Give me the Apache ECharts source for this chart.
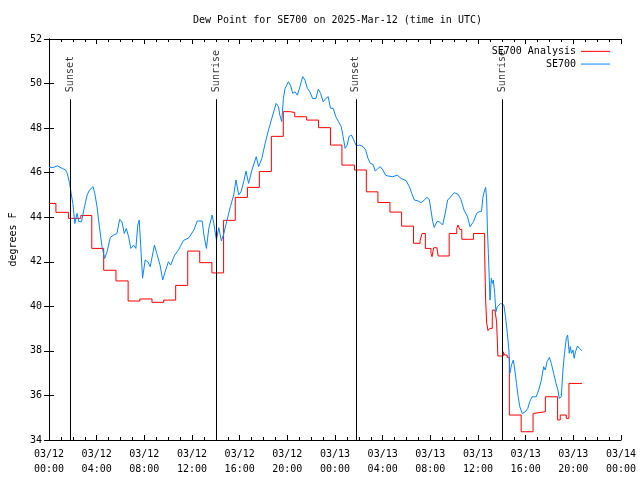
<!DOCTYPE html>
<html><head><meta charset="utf-8">
<script src="https://cdn.jsdelivr.net/npm/echarts@6/dist/echarts.min.js"></script>
<style>html,body{margin:0;padding:0;background:#fff}#c{width:640px;height:480px}</style>
</head><body><div id="c"></div>
<script>
// hours since 2025-03-12 00:00 UTC
const obsHours = [0.00,0.42,0.69,1.11,1.39,1.53,1.73,1.86,2.00,2.17,2.36,2.50,2.73,2.92,3.20,3.40,3.70,3.84,4.03,4.23,4.45,4.67,4.87,5.15,5.43,5.70,5.93,6.12,6.32,6.49,6.68,6.87,7.10,7.29,7.45,7.57,7.70,7.85,8.07,8.29,8.49,8.85,9.04,9.32,9.54,9.79,10.02,10.21,10.54,10.91,11.27,11.74,12.16,12.44,12.85,13.00,13.21,13.41,13.69,13.83,14.05,14.25,14.47,14.67,14.94,15.22,15.50,15.69,15.92,16.11,16.34,16.53,16.75,17.03,17.39,17.59,17.86,18.14,18.42,18.70,19.06,19.26,19.37,19.53,19.67,19.81,20.09,20.28,20.45,20.64,20.84,21.06,21.29,21.48,21.68,21.89,22.12,22.40,22.60,22.79,23.01,23.23,23.43,23.62,23.85,24.07,24.29,24.52,24.68,24.85,25.02,25.18,25.38,25.57,25.79,26.07,26.35,26.57,26.77,26.96,27.19,27.38,27.60,27.80,28.02,28.24,28.44,28.86,29.21,29.55,29.97,30.24,30.44,30.66,30.94,31.22,31.49,31.72,31.91,32.05,32.20,32.33,32.55,32.75,32.89,33.03,33.22,33.45,33.72,34.00,34.33,34.56,34.83,35.12,35.33,35.62,35.89,36.09,36.29,36.42,36.56,36.64,36.73,36.79,36.87,36.92,37.01,37.12,37.20,37.29,37.40,37.50,37.62,37.76,37.90,38.04,38.17,38.31,38.46,38.59,38.67,38.81,38.96,39.09,39.23,39.37,39.51,39.71,39.98,40.18,40.34,40.54,40.68,40.88,41.09,41.29,41.51,41.65,41.79,41.99,42.15,42.35,42.55,42.71,42.82,42.99,43.13,43.26,43.41,43.52,43.66,43.74,43.85,43.97,44.07,44.18,44.35,44.51,44.72];
const obsValues = [46.24,46.24,46.31,46.19,46.12,45.97,45.52,45.07,44.62,43.72,44.17,43.80,43.80,44.32,45.00,45.22,45.37,45.07,44.47,43.57,42.68,42.15,42.45,43.10,43.20,43.27,43.90,43.80,43.27,43.50,43.12,42.60,42.75,42.60,43.65,43.87,42.68,41.26,42.08,42.00,41.78,42.75,42.38,41.85,41.18,41.63,42.00,41.85,42.30,42.57,42.95,43.08,43.43,43.83,43.83,43.20,42.60,43.50,44.10,43.72,42.98,43.53,42.93,43.27,43.87,44.47,45.00,45.67,45.00,45.14,45.59,46.07,45.52,46.12,46.72,46.27,46.64,47.32,47.92,48.44,49.11,48.96,48.59,48.29,49.34,49.78,50.08,49.90,49.56,49.63,49.48,49.86,50.31,50.16,49.78,49.63,49.33,49.33,49.75,49.56,49.18,49.33,49.41,48.89,48.89,48.51,48.29,48.07,47.62,47.09,47.24,47.62,47.69,47.47,47.20,47.24,47.17,47.02,46.64,46.42,46.37,46.07,46.19,46.27,46.12,45.89,45.85,45.82,45.89,45.74,45.64,45.37,45.07,44.77,44.74,44.65,44.77,44.89,44.80,44.32,43.80,43.54,43.80,43.80,43.87,43.65,44.10,44.77,44.92,45.10,45.03,44.80,44.32,44.02,43.57,43.80,44.17,44.25,44.25,44.92,45.22,45.34,44.77,43.43,42.38,41.63,40.28,41.26,41.03,41.18,40.58,39.76,39.98,39.91,40.13,40.20,40.06,39.53,38.79,38.04,36.99,37.37,37.59,37.14,36.54,35.94,35.49,35.19,35.27,35.42,35.72,35.94,36.02,35.94,36.24,36.62,37.29,37.14,37.51,37.71,37.44,36.99,36.54,36.24,35.87,35.94,37.14,37.89,38.56,38.71,37.89,38.19,37.89,38.04,37.67,37.96,38.22,38.11,38.01];

const anaHours = [0.00,0.58,1.63,2.67,3.59,4.59,5.62,6.64,7.62,8.64,9.62,10.63,11.64,12.65,13.67,14.65,15.63,16.65,17.65,18.66,19.66,20.20,20.62,21.62,22.62,23.62,24.58,25.63,26.63,27.60,28.61,29.59,30.59,31.14,31.30,31.58,32.05,32.14,32.28,32.55,32.66,33.58,34.22,34.33,34.47,34.64,35.62,36.56,36.64,36.73,36.84,36.98,37.20,37.42,37.56,37.67,38.12,38.23,38.45,38.63,39.62,40.62,40.73,41.65,42.68,42.90,43.41,43.63,44.72];
const anaValues = [44.62,44.22,43.95,44.08,42.60,41.62,41.14,40.24,40.33,40.18,40.28,40.94,42.48,41.96,41.50,43.86,44.89,45.34,46.05,47.63,48.74,48.70,48.51,48.36,48.02,47.24,46.34,46.12,45.14,44.66,44.23,43.60,42.83,42.95,43.27,42.60,42.38,42.23,42.63,42.55,42.26,43.27,43.50,43.65,43.45,43.01,43.27,42.30,40.28,39.24,38.91,39.01,39.83,39.76,39.31,37.77,37.96,37.81,37.71,35.12,34.37,35.19,35.27,35.94,34.90,35.12,34.97,36.54,36.54];

const sunHours = [1.80, 14.05, 25.75, 38.05];
const sunNames = ['Sunset', 'Sunrise', 'Sunset', 'Sunrise'];
const sunLineTop = 49.3;

const xTickLabels = ['03/12\n00:00','03/12\n04:00','03/12\n08:00','03/12\n12:00','03/12\n16:00','03/12\n20:00','03/13\n00:00','03/13\n04:00','03/13\n08:00','03/13\n12:00','03/13\n16:00','03/13\n20:00','03/14\n00:00'];

const FONT = 'DejaVu Sans Mono';
const zip = (a, b) => a.map((v, i) => [v, b[i]]);

const chart = echarts.init(document.getElementById('c'), null, {renderer: 'canvas'});
const axisCommon = {
  axisLine: {show: true, lineStyle: {color: '#000', width: 1}},
  splitLine: {show: false}
};
chart.setOption({
  animation: false,
  backgroundColor: '#fff',
  title: {
    text: 'Dew Point for SE700 on 2025-Mar-12 (time in UTC)',
    left: 188, top: 10,
    textStyle: {fontFamily: FONT, fontSize: 10, fontWeight: 'normal', color: '#000'}
  },
  legend: {
    orient: 'vertical', right: 25, top: 40, align: 'right',
    icon: 'rect', itemWidth: 29, itemHeight: 1, itemGap: 0,
    textStyle: {fontFamily: FONT, fontSize: 10, color: '#000', lineHeight: 12.7},
    data: ['SE700 Analysis', 'SE700']
  },
  grid: {left: 46, right: 19, top: 39, bottom: 40, containLabel: false},
  xAxis: [
    Object.assign({}, axisCommon, {
      type: 'value', min: 0, max: 48, interval: 4, position: 'bottom',
      axisTick: {inside: true, length: 5, lineStyle: {color: '#000'}},
      minorTick: {show: true, splitNumber: 4, length: 3, lineStyle: {color: '#000'}},
      axisLabel: {fontFamily: FONT, fontSize: 10, color: '#000', margin: 7, lineHeight: 15,
        formatter: v => xTickLabels[Math.round(v / 4)]}
    }),
    Object.assign({}, axisCommon, {
      type: 'value', min: 0, max: 48, interval: 4, position: 'top',
      axisTick: {inside: true, length: 5, lineStyle: {color: '#000'}},
      minorTick: {show: true, splitNumber: 4, length: 3, lineStyle: {color: '#000'}},
      axisLabel: {show: false}
    })
  ],
  yAxis: [
    Object.assign({}, axisCommon, {
      type: 'value', min: 34, max: 52, interval: 2, position: 'left',
      name: 'degrees F', nameLocation: 'middle', nameGap: 31, nameRotate: 90,
      nameTextStyle: {fontFamily: FONT, fontSize: 10, color: '#000'},
      axisTick: {inside: true, length: 5, lineStyle: {color: '#000'}},
      axisLabel: {fontFamily: FONT, fontSize: 10, color: '#000', margin: 7}
    }),
    Object.assign({}, axisCommon, {
      type: 'value', min: 34, max: 52, interval: 2, position: 'right',
      axisTick: {inside: true, length: 5, lineStyle: {color: '#000'}},
      axisLabel: {show: false}
    })
  ],
  series: [
    {
      name: 'SE700 Analysis', type: 'line', step: 'end', symbol: 'none',
      data: zip(anaHours, anaValues),
      lineStyle: {color: '#ff0000', width: 1}, itemStyle: {color: '#ff0000'}, z: 3
    },
    {
      name: 'SE700', type: 'line', symbol: 'none',
      data: zip(obsHours, obsValues),
      lineStyle: {color: '#0a84ff', width: 1}, itemStyle: {color: '#0a84ff'}, z: 4
    },
    {
      name: 'sun', type: 'scatter', symbolSize: 0, silent: true,
      data: sunHours.map((h, i) => ({value: [h, sunLineTop], name: sunNames[i]})),
      label: {show: true, position: 'top', distance: 7, rotate: 90, align: 'left', verticalAlign: 'middle',
        formatter: p => p.name, fontFamily: FONT, fontSize: 10, color: '#000'},
      markLine: {
        silent: true, symbol: 'none', label: {show: false},
        lineStyle: {color: '#000', width: 1, type: 'solid'},
        data: sunHours.map(h => [{coord: [h, 34]}, {coord: [h, sunLineTop]}])
      },
      z: 2
    }
  ]
});
</script></body></html>
